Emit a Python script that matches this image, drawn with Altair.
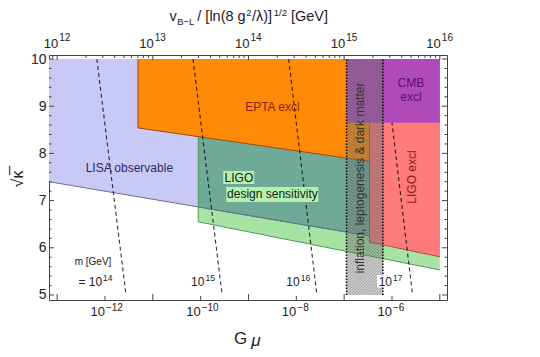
import altair as alt
import pandas as pd
import math

FONT = "Liberation Sans"
W, H = 398, 245
XDOM = [-13.17, -4.85]          # log10(G mu)
YDOM = [4.894, 10.085]          # sqrt(kappa)

# ---- regions (x = log10 G mu, lower boundary y, top = 10) ----
region_top = 10.0
lisa_x = [-13.17, -5.0]; lisa_low = [7.40, 6.00]
ligo_x = [-10.05, -5.0]; ligo_low = [6.55, 5.53]
overlap_x = [-10.05, -5.0]; overlap_low = [6.865, 6.00]
epta_x = [-11.31, -6.47]; epta_low = [8.54, 7.83]
ligoex_x = [-6.47, -5.0]; ligoex_low = [6.12, 5.81]
cmb_x = [-6.95, -5.0]; cmb_low = [8.65, 8.65]
band_x = [-6.95, -6.19]; band_y = [5.0, 10.0]

# ---- m [GeV] dashed contours ----
m_exp = ["14", "15", "16", "17"]
m_top_x = [-12.17, -10.16, -8.16, -6.16]
m_bot_x = [-11.56, -9.55, -7.57, -5.57]
m_end_y = [10.0, 5.0]
m_lab_x = [-12.06, -9.92, -7.93, -6.0]
m_lab_base = ["= 10", "10", "10", "10"]
m_lab_y = 5.27
m_exp_y = 5.37

# ---- axes ----
bottom_ticks = [-13, -12, -11, -10, -9, -8, -7, -6, -5]
bottom_lab_x = [-12, -10, -8, -6]
bottom_lab_exp = ["\u221212", "\u221210", "\u22128", "\u22126"]
top_major = [12, 13, 14, 15, 16]          # log10 v_B-L
top_minor_mult = [2, 3, 4, 5, 6, 7, 8, 9]
vbl_offset = 37.0                          # log10 Gmu = 2 log10 v - 37
y_major = [5, 6, 7, 8, 9, 10]
y_minor = [5.2, 5.4, 5.6, 5.8, 6.2, 6.4, 6.6, 6.8, 7.2, 7.4, 7.6, 7.8,
           8.2, 8.4, 8.6, 8.8, 9.2, 9.4, 9.6, 9.8]

xscale = alt.Scale(domain=XDOM, nice=False, zero=False)
yscale = alt.Scale(domain=YDOM, nice=False, zero=False)
yaxis = alt.Axis(values=y_major, labelFont=FONT, labelFontSize=14, labelColor="#222",
                 ticks=False, domain=False, grid=False, labelPadding=3, title=None)

PX_PER_X = W / (XDOM[1] - XDOM[0])
PX_PER_Y = H / (YDOM[1] - YDOM[0])


def X(f="x"):
    return alt.X(f"{f}:Q", scale=xscale, axis=None)


def Y(f="y"):
    return alt.Y(f"{f}:Q", scale=yscale, axis=yaxis)


def fill(xs, lows, color):
    df = pd.DataFrame({"x": xs, "y": lows, "top": [region_top] * len(xs)})
    return alt.Chart(df).mark_area(color=color, opacity=1).encode(
        x=X(), y=Y(), y2=alt.Y2("top:Q"))


def edge(xs, lows, color, with_left=True):
    px = ([xs[0]] if with_left else []) + list(xs)
    py = ([region_top] if with_left else []) + list(lows)
    df = pd.DataFrame({"x": px, "y": py, "o": list(range(len(px)))})
    return alt.Chart(df).mark_line(color=color, strokeWidth=1).encode(
        x=X(), y=Y(), order="o:Q")


def text_data(xs, ys, ts, **kw):
    df = pd.DataFrame({"x": xs, "y": ys, "t": ts})
    base = dict(font=FONT, fontSize=12, color="#222", baseline="middle")
    base.update(kw)
    return alt.Chart(df).mark_text(**base).encode(x=X(), y=Y(), text="t:N")


def text_px(t, px, py, **kw):
    df = pd.DataFrame({"t": [t]})
    base = dict(font=FONT, fontSize=14.5, color="#222", baseline="middle", align="left")
    base.update(kw)
    return alt.Chart(df).mark_text(**base).encode(
        x=alt.value(px), y=alt.value(py), text="t:N")


def rect_data(x0, x1, y0, y1, color, opacity=1.0):
    df = pd.DataFrame({"x": [x0], "x2": [x1], "y": [y0], "y2": [y1]})
    return alt.Chart(df).mark_rect(color=color, opacity=opacity).encode(
        x=X(), x2="x2:Q", y=Y(), y2="y2:Q")


layers = []
# fills and edges (order mimics drawing order of the original)
layers.append(fill(lisa_x, lisa_low, "#c9c9f5"))
layers.append(fill(ligo_x, ligo_low, "#a7e3a5"))
layers.append(fill(overlap_x, overlap_low, "#6faa98"))
layers.append(edge(lisa_x, lisa_low, "#6d6d9a", with_left=False))
layers.append(edge(ligo_x, ligo_low, "#4f9a5a"))
layers.append(edge(overlap_x, overlap_low, "#5a7f80", with_left=False))
layers.append(fill(epta_x, epta_low, "#ff8a05"))
layers.append(edge(epta_x, epta_low, "#9a4a10"))
layers.append(fill(ligoex_x, ligoex_low, "#ff7b7b"))
layers.append(edge(ligoex_x, ligoex_low, "#b84a40"))

# dashed m contours
mrows = []
for e, xt, xb in zip(m_exp, m_top_x, m_bot_x):
    mrows.append({"m": e, "x": xt, "y": m_end_y[0]})
    mrows.append({"m": e, "x": xb, "y": m_end_y[1]})
layers.append(alt.Chart(pd.DataFrame(mrows)).mark_line(
    color="#000", strokeDash=[4, 3], strokeWidth=1.1, opacity=0.8).encode(
    x=X(), y=Y(), detail="m:N"))

# CMB
layers.append(fill(cmb_x, cmb_low, "#b04ab8"))

# band: translucent grey + hatch + dotted borders
layers.append(rect_data(band_x[0], band_x[1], band_y[0], band_y[1], "#7d7d7d", 0.4))
bw_px = (band_x[1] - band_x[0]) * PX_PER_X
dy_span = bw_px / PX_PER_Y
step = 3.0 / PX_PER_Y
hrows = []
ys = band_y[0] - dy_span
while ys < band_y[1]:
    xa, ya = band_x[0], ys
    xb, yb = band_x[1], ys + dy_span
    if ya < band_y[0]:
        xa = band_x[0] + (band_y[0] - ya) / dy_span * (band_x[1] - band_x[0])
        ya = band_y[0]
    if yb > band_y[1]:
        xb = band_x[0] + (band_y[1] - ys) / dy_span * (band_x[1] - band_x[0])
        yb = band_y[1]
    hrows.append({"x": xa, "y": ya, "x2": xb, "y2": yb})
    ys += step
layers.append(alt.Chart(pd.DataFrame(hrows)).mark_rule(
    color="#333", strokeWidth=0.6, opacity=0.45).encode(
    x=X(), y=Y(), x2="x2:Q", y2="y2:Q"))
bdf = pd.DataFrame({"x": band_x, "y": [band_y[0]] * 2, "y2": [band_y[1]] * 2})
layers.append(alt.Chart(bdf).mark_rule(color="#111", strokeWidth=1.6, strokeDash=[1.5, 1.5]).encode(
    x=X(), y=Y(), y2="y2:Q"))

# labels inside plot
layers.append(text_data([-11.49], [7.69], ["LISA observable"], color="#2b2b6b"))
layers.append(text_data([-8.50], [8.99], ["EPTA excl"], color="#8c1e0c"))
layers.append(rect_data(-9.527, -8.879, 7.352, 7.627, "#b5f0ae"))
layers.append(rect_data(-9.464, -7.540, 6.97, 7.288, "#b5f0ae"))
layers.append(text_data([-9.20], [7.48], ["LIGO"], color="#112211"))
layers.append(text_data([-8.50], [7.13], ["design sensitivity"], color="#112211"))
layers.append(text_data([-5.605, -5.605], [9.49, 9.195], ["CMB", "excl"], color="#5a1272"))
layers.append(text_data([-5.573], [7.50], ["LIGO excl"], color="#8b1a1a", angle=270))
layers.append(text_data([-6.676], [7.48], ["inflation, leptogenesis & dark matter"],
                        color="#333", angle=270))
layers.append(text_data([-12.25], [5.69], ["m [GeV]"], fontSize=10))
layers.append(rect_data(-6.313, -5.965, 5.16, 5.42, "#ffffff"))
layers.append(text_data(m_lab_x, [m_lab_y] * 4, m_lab_base, align="right", fontSize=12))
layers.append(text_data(m_lab_x, [m_exp_y] * 4, m_exp, align="left", dx=1, fontSize=8.5))

# ticks (inward)
tick_color = "#444"
bt_major = pd.DataFrame({"x": [t for t in bottom_ticks if t % 2 != 0]})
bt_minor = pd.DataFrame({"x": [t for t in bottom_ticks if t % 2 == 0]})
layers.append(alt.Chart(bt_major).mark_rule(color=tick_color).encode(
    x=X(), y=alt.value(H), y2=alt.value(H - 6)))
layers.append(alt.Chart(bt_minor).mark_rule(color=tick_color).encode(
    x=X(), y=alt.value(H), y2=alt.value(H - 4)))

top_major_df = pd.DataFrame({"x": [2 * v - vbl_offset for v in top_major]})
top_minor_vals = []
for n in range(11, 17):
    for k in top_minor_mult:
        L = 2 * (n + math.log10(k)) - vbl_offset
        if XDOM[0] < L < XDOM[1]:
            top_minor_vals.append(L)
top_minor_df = pd.DataFrame({"x": top_minor_vals})
layers.append(alt.Chart(top_major_df).mark_rule(color=tick_color).encode(
    x=X(), y=alt.value(0), y2=alt.value(5)))
layers.append(alt.Chart(top_minor_df).mark_rule(color=tick_color).encode(
    x=X(), y=alt.value(0), y2=alt.value(3)))

ymaj = pd.DataFrame({"y": y_major})
ymin = pd.DataFrame({"y": y_minor})
for x0, sgn in [(0, 1), (W, -1)]:
    layers.append(alt.Chart(ymaj).mark_rule(color=tick_color).encode(
        y=Y(), x=alt.value(x0), x2=alt.value(x0 + sgn * 5)))
    layers.append(alt.Chart(ymin).mark_rule(color=tick_color).encode(
        y=Y(), x=alt.value(x0), x2=alt.value(x0 + sgn * 2.5)))

# tick labels bottom
bl = pd.DataFrame({"x": bottom_lab_x, "b": ["10"] * 4, "e": bottom_lab_exp})
layers.append(alt.Chart(bl).mark_text(font=FONT, fontSize=13, color="#222", align="right",
                                      baseline="middle").encode(
    x=X(), y=alt.value(H + 12), text="b:N"))
layers.append(alt.Chart(bl).mark_text(font=FONT, fontSize=10, color="#222", align="left",
                                      baseline="middle", dx=1).encode(
    x=X(), y=alt.value(H + 8), text="e:N"))
# tick labels top
tl = pd.DataFrame({"x": [2 * v - vbl_offset for v in top_major], "b": ["10"] * 5,
                   "e": [str(v) for v in top_major]})
layers.append(alt.Chart(tl).mark_text(font=FONT, fontSize=13, color="#222", align="right",
                                      baseline="middle", dx=1).encode(
    x=X(), y=alt.value(-10.7), text="b:N"))
layers.append(alt.Chart(tl).mark_text(font=FONT, fontSize=10, color="#222", align="left",
                                      baseline="middle", dx=2).encode(
    x=X(), y=alt.value(-17), text="e:N"))

# axis titles
layers.append(text_px("G", 191.5, 284, fontSize=17, align="center"))
layers.append(text_px("\u03bc", 206.8, 286, fontSize=17, align="center", fontStyle="italic"))
layers.append(text_px("\u221a\u03ba\u0305", -31, 124, fontSize=16, align="center", angle=270))
layers.append(text_px("v", 120.6, -38))
layers.append(text_px("B\u2212L", 128.2, -33.5, fontSize=9.5))
layers.append(text_px("/ [ln(8 g", 148.3, -38))
layers.append(text_px("2", 197.2, -42, fontSize=9.5))
layers.append(text_px("/\u03bb)]", 203, -38))
layers.append(text_px("1/2", 224.8, -42, fontSize=9.5))
layers.append(text_px("[GeV]", 242, -38))

chart = alt.layer(*layers).properties(
    width=W, height=H,
    autosize=alt.AutoSizeParams(type="none"),
    padding={"left": 41, "top": 47, "right": 60, "bottom": 50},
).configure_view(stroke="#444", strokeWidth=1)

chart.save("out.html", embed_options={"renderer": "svg", "actions": False})
